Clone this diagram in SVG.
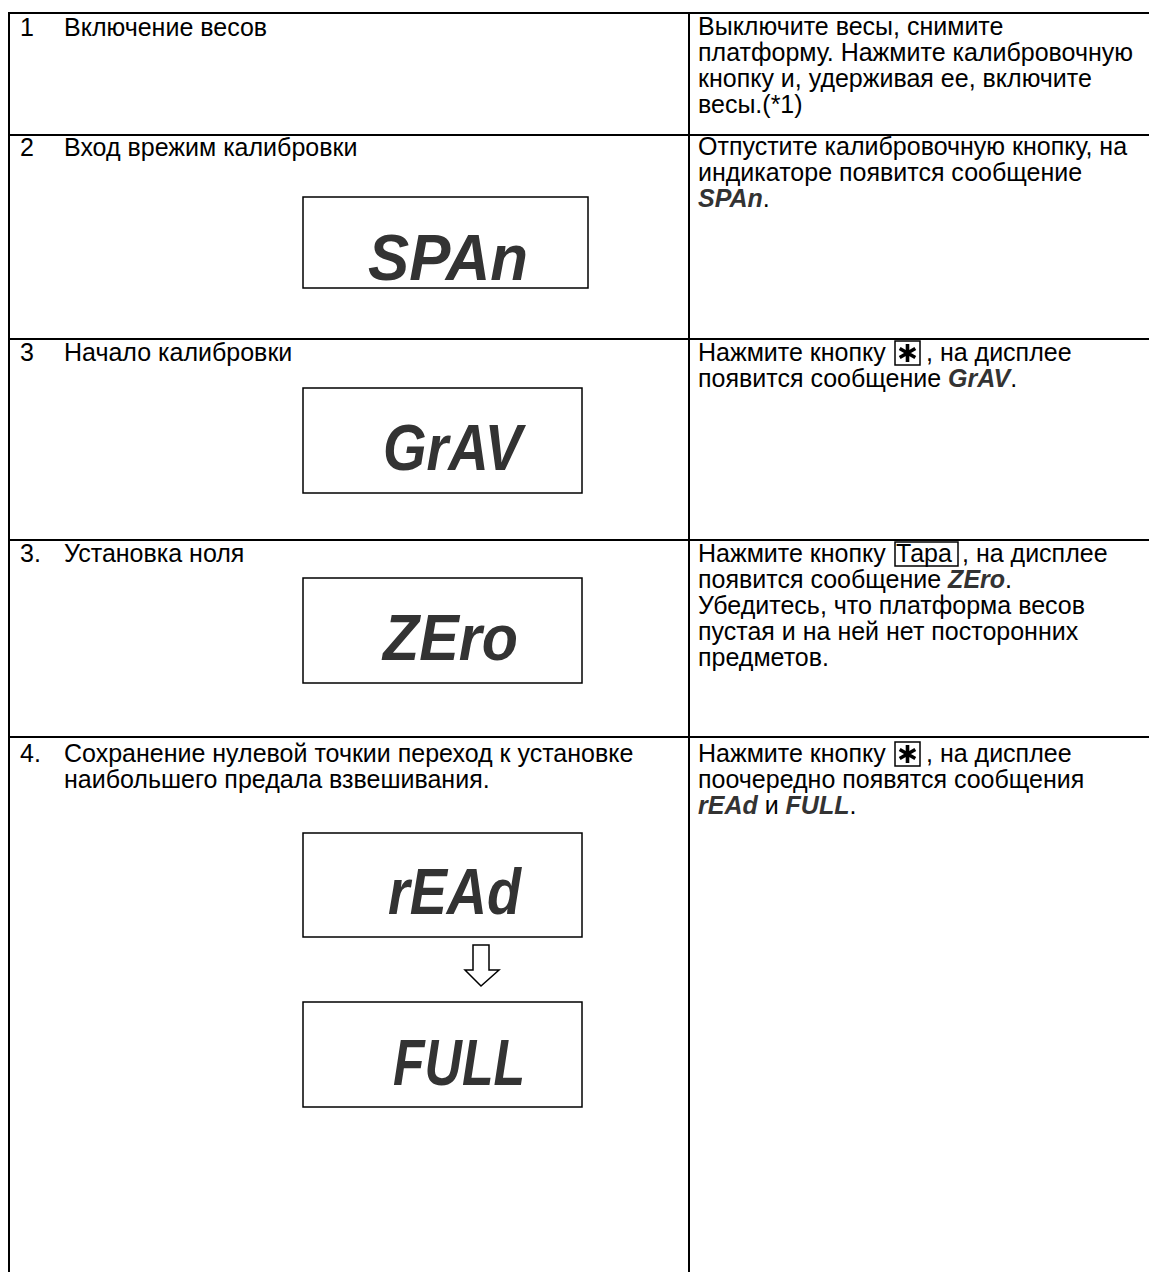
<svg xmlns="http://www.w3.org/2000/svg" width="1149" height="1272" viewBox="0 0 1149 1272">
<defs>
<g id="star">
<path d="M0,-9 V9 M-7.8,-4.5 L7.8,4.5 M-7.8,4.5 L7.8,-4.5" stroke="#000" stroke-width="3.6" fill="none"/>
</g>
</defs>
<style>
.t{font-family:"Liberation Sans",Arial,sans-serif;font-size:25px;fill:#000}
.d{font-family:"Liberation Sans",Arial,sans-serif;font-size:64px;font-weight:bold;font-style:italic;fill:#333}
.bi{font-weight:bold;font-style:italic;fill:#333}
.g{stroke:#000;stroke-width:2;fill:none}
.box{stroke:#000;stroke-width:1.5;fill:#fff}
.kb{stroke:#000;stroke-width:1.5;fill:none}
</style>
<rect width="1149" height="1272" fill="#fff"/>
<g id="grid">
<path class="g" d="M9,1272 V13 H1149 M689,13 V1272 M9,135 H1149 M9,339 H1149 M9,540 H1149 M9,737 H1149"/>
</g>
<g id="row1">
<text class="t" x="20" y="36">1</text>
<text class="t" x="64" y="36">Включение весов</text>
<text class="t" x="698" y="35">Выключите весы, снимите</text>
<text class="t" x="698" y="61">платформу. Нажмите калибровочную</text>
<text class="t" x="698" y="87">кнопку и, удерживая ее, включите</text>
<text class="t" x="698" y="113">весы.(*1)</text>
</g>
<g id="row2">
<text class="t" x="20" y="156">2</text>
<text class="t" x="64" y="156">Вход врежим калибровки</text>
<rect class="box" x="303" y="197" width="285" height="91"/>
<text class="d" x="368" y="280" textLength="160" lengthAdjust="spacingAndGlyphs">SPAn</text>
<text class="t" x="698" y="155">Отпустите калибровочную кнопку, на</text>
<text class="t" x="698" y="181">индикаторе появится сообщение</text>
<text class="t" x="698" y="207"><tspan class="bi">SPAn</tspan>.</text>
</g>
<g id="row3">
<text class="t" x="20" y="361">3</text>
<text class="t" x="64" y="361">Начало калибровки</text>
<rect class="box" x="303" y="388" width="279" height="105"/>
<text class="d" x="383" y="470" textLength="139" lengthAdjust="spacingAndGlyphs">GrAV</text>
<text class="t" x="698" y="361">Нажмите кнопку</text>
<rect class="kb" x="895" y="341" width="25" height="24"/>
<use href="#star" x="907.5" y="353"/>
<text class="t" x="926" y="361">, на дисплее</text>
<text class="t" x="698" y="387">появится сообщение <tspan class="bi">GrAV</tspan>.</text>
</g>
<g id="row3b">
<text class="t" x="20" y="562">3.</text>
<text class="t" x="64" y="562">Установка ноля</text>
<rect class="box" x="303" y="578" width="279" height="105"/>
<text class="d" x="383" y="660" textLength="135" lengthAdjust="spacingAndGlyphs">ZEro</text>
<text class="t" x="698" y="562">Нажмите кнопку</text>
<rect class="kb" x="895" y="542" width="63" height="24"/>
<text class="t" x="896" y="562">Тара</text>
<text class="t" x="962" y="562">, на дисплее</text>
<text class="t" x="698" y="588">появится сообщение <tspan class="bi">ZEro</tspan>.</text>
<text class="t" x="698" y="614">Убедитесь, что платформа весов</text>
<text class="t" x="698" y="640">пустая и на ней нет посторонних</text>
<text class="t" x="698" y="666">предметов.</text>
</g>
<g id="row4">
<text class="t" x="20" y="762">4.</text>
<text class="t" x="64" y="762">Сохранение нулевой точкии переход к установке</text>
<text class="t" x="64" y="788">наибольшего предала взвешивания.</text>
<rect class="box" x="303" y="833" width="279" height="104"/>
<text class="d" x="388" y="914" textLength="133" lengthAdjust="spacingAndGlyphs">rEAd</text>
<path d="M473,945 H489 V970 H499 L481,986 L465,970 H473 Z" fill="#fff" stroke="#000" stroke-width="1.5"/>
<rect class="box" x="303" y="1002" width="279" height="105"/>
<text class="d" x="393" y="1085" textLength="132" lengthAdjust="spacingAndGlyphs">FULL</text>
<text class="t" x="698" y="762">Нажмите кнопку</text>
<rect class="kb" x="895" y="742" width="25" height="24"/>
<use href="#star" x="907.5" y="754"/>
<text class="t" x="926" y="762">, на дисплее</text>
<text class="t" x="698" y="788">поочередно появятся сообщения</text>
<text class="t" x="698" y="814"><tspan class="bi">rEAd</tspan> и <tspan class="bi">FULL</tspan>.</text>
</g>
</svg>
